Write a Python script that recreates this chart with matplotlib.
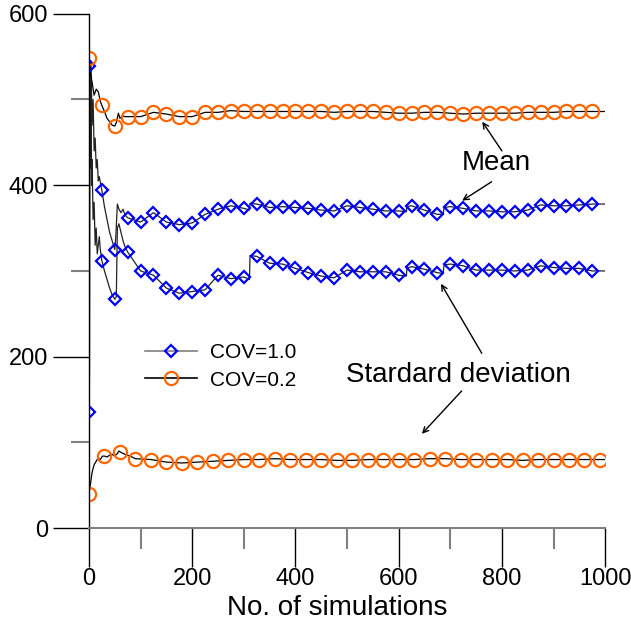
import matplotlib
matplotlib.use("Agg")
import matplotlib.pyplot as plt

plt.rcParams['font.family'] = ['Liberation Sans', 'DejaVu Sans']

# COV=1.0 mean (blue diamonds, every 25 simulations)
blue_mean_x = list(range(0, 1000, 25))
blue_mean = [539, 394, 325, 362, 357, 368, 357, 354, 356, 366, 372, 376,
             373, 378, 374, 375, 374, 373, 371, 370, 376, 374, 372, 370,
             370, 376, 371, 366, 375, 373, 370, 370, 369, 369, 371, 377,
             376, 376, 377, 378]
# COV=1.0 standard deviation (blue diamonds)
blue_std_x = list(range(0, 1000, 25))
blue_std = [135, 312, 267, 322, 300, 295, 280, 274, 276, 278, 295, 291,
            293, 317, 309, 308, 303, 298, 294, 292, 301, 299, 299, 299,
            295, 305, 302, 298, 308, 306, 301, 301, 301, 300, 301, 306,
            304, 303, 303, 300]
# COV=0.2 mean (orange circles, every 25 simulations)
orange_mean_x = list(range(0, 1000, 25))
orange_mean = [548, 493, 469, 480, 480, 485, 483, 480, 480, 485, 485, 487,
               486, 486, 486, 486, 486, 486, 486, 485, 486, 486, 486, 485,
               484, 484, 485, 485, 484, 483, 484, 484, 484, 484, 485, 485,
               485, 486, 486, 486]
# COV=0.2 standard deviation (orange circles, every 30 simulations)
orange_std_x = list(range(0, 1000, 30))
orange_std = [40, 84, 89, 81, 80, 77, 76, 77, 78, 79, 80, 80, 81, 80, 80,
              80, 79, 79, 80, 80, 80, 80, 81, 81, 80, 80, 80, 80, 79, 80,
              80, 80, 80, 80]

# running curves (early part is very noisy, then follows the markers)
blue_mean_line_x = [0, 2, 4, 6, 8, 10, 12, 14, 16, 18, 20, 25, 30, 35, 40,
                    45, 50, 52, 55, 58, 62, 66, 70, 75] + blue_mean_x[4:13] \
                   + [311, 312] + blue_mean_x[13:25] + [615, 616] \
                   + blue_mean_x[25:28] + [686, 688] + blue_mean_x[28:] + [1000]
blue_mean_line = [539, 520, 545, 470, 500, 440, 455, 420, 430, 405, 410, 394,
                  375, 360, 345, 335, 325, 340, 378, 372, 368, 372, 365, 362] \
                 + blue_mean[4:13] + [371, 379] + blue_mean[13:25] + [369, 375] \
                 + blue_mean[25:28] + [366, 374] + blue_mean[28:] + [378]
blue_std_line_x = [0, 1, 2, 3, 4, 5, 6, 8, 10, 12, 14, 16, 18, 20, 22, 25,
                   30, 35, 40, 45, 50, 53, 55, 58, 62, 66, 70, 75] \
                  + blue_std_x[4:13] + [311, 312] + blue_std_x[13:25] \
                  + [615, 616] + blue_std_x[25:28] + [686, 688] \
                  + blue_std_x[28:] + [1000]
blue_std_line = [135, 180, 500, 420, 520, 400, 430, 360, 380, 330, 350, 320,
                 330, 340, 325, 312, 300, 290, 280, 272, 267, 270, 350, 355,
                 345, 335, 328, 322] + blue_std[4:13] + [290, 318] \
                + blue_std[13:25] + [294, 303] + blue_std[25:28] + [297, 307] \
                + blue_std[28:] + [300]
orange_mean_line_x = [0, 3, 6, 10, 14, 18, 22, 25, 30, 35, 40, 45, 50, 53,
                      57, 60, 65, 70] + orange_mean_x[3:] + [1000]
orange_mean_line = [548, 530, 520, 505, 512, 509, 498, 493, 486, 478, 474,
                    470, 469, 473, 484, 478, 481, 480] + orange_mean[3:] + [486]
orange_std_line_x = [0, 3, 6, 10, 14, 18, 22, 26, 30, 35, 40, 45, 50, 55,
                     58, 60, 70, 80] + orange_std_x[3:] + [1000]
orange_std_line = [40, 52, 65, 74, 78, 82, 80, 84, 84, 83, 85, 86, 84, 87,
                   90, 89, 86, 84] + orange_std[3:] + [80]

fig = plt.figure(figsize=(6.31, 6.25), dpi=100)
ax = fig.add_axes([0.141, 0.155, 0.818, 0.823])

blue = '#0000ff'
orange = '#ff6600'
mk = dict(linestyle='none', markerfacecolor='none', markeredgewidth=1.6)

ax.plot(blue_mean_line_x, blue_mean_line, color='#222222', lw=0.9)
ax.plot(blue_std_line_x, blue_std_line, color='#222222', lw=0.9)
ax.plot(orange_mean_line_x, orange_mean_line, color='black', lw=0.9)
ax.plot(orange_std_line_x, orange_std_line, color='black', lw=0.9)
ax.plot(blue_mean_x, blue_mean, marker='D', markersize=6.5,
        markeredgecolor=blue, **mk)
ax.plot(blue_std_x, blue_std, marker='D', markersize=6.5,
        markeredgecolor=blue, **mk)
ax.plot(orange_mean_x, orange_mean, marker='o', markersize=9.5,
        markeredgecolor=orange, **mk)
ax.plot(orange_std_x, orange_std, marker='o', markersize=9.5,
        markeredgecolor=orange, **mk)

# legend handles
h1, = ax.plot([], [], color='#808080', lw=1.2, marker='D', markersize=6.5,
              markerfacecolor='none', markeredgecolor=blue, markeredgewidth=1.6)
h2, = ax.plot([], [], color='black', lw=1.2, marker='o', markersize=9.5,
              markerfacecolor='none', markeredgecolor=orange, markeredgewidth=1.6)
ax.legend([h1, h2], ['COV=1.0', 'COV=0.2'], loc='center left',
          bbox_to_anchor=(0.1085, 0.314), frameon=False, fontsize=15,
          handlelength=2.5, handletextpad=0.6, borderpad=0, borderaxespad=0,
          labelspacing=0.4)

# annotations
ax.text(790, 426, 'Mean', fontsize=20, ha='center', va='center')
arrow = dict(arrowstyle='->', color='black', lw=1, shrinkA=0, shrinkB=0)
ax.annotate('', xy=(762, 474), xytext=(800, 440), arrowprops=arrow)
ax.annotate('', xy=(723, 382), xytext=(780, 404), arrowprops=arrow)
ax.text(716, 179, 'Stardard deviation', fontsize=20, ha='center', va='center')
ax.annotate('', xy=(682, 285), xytext=(761, 204), arrowprops=arrow)
ax.annotate('', xy=(645, 110), xytext=(722, 160), arrowprops=arrow)

ax.set_xlim(0, 1000)
ax.set_ylim(0, 600)
ax.set_xticks(range(0, 1001, 200))
ax.set_xticks(range(100, 1000, 200), minor=True)
ax.set_yticks(range(0, 601, 200))
ax.set_yticks(range(100, 600, 200), minor=True)
ax.tick_params(which='major', direction='out', length=26, width=1,
               labelsize=17, color='black')
ax.tick_params(which='minor', direction='out', length=13, width=1.5,
               color='#808080')
ax.tick_params(axis='x', which='major', length=28, pad=1)
ax.tick_params(axis='x', which='minor', length=15)
ax.spines['top'].set_visible(False)
ax.spines['right'].set_visible(False)
ax.spines['bottom'].set_color('#808080')
ax.spines['bottom'].set_linewidth(1.5)
ax.spines['left'].set_linewidth(1)
ax.set_xlabel('No. of simulations', fontsize=20)
ax.xaxis.set_label_coords(0.48, -0.13)

fig.savefig('out.png', dpi=100)
